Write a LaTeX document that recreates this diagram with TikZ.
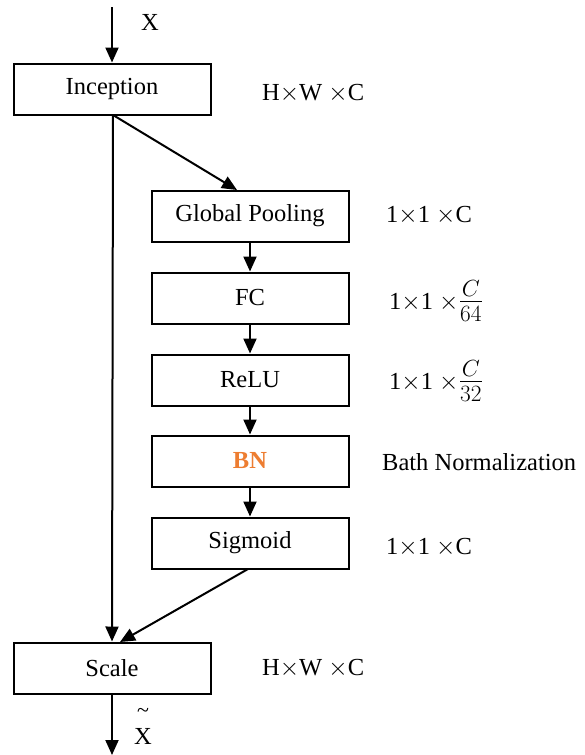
\documentclass[tikz,border=0pt]{standalone}
\usepackage{fontspec}
\usepackage{graphicx}
\setmainfont{Liberation Serif}
\usetikzlibrary{arrows.meta}
\definecolor{bnorange}{RGB}{237,125,49}
\newcommand{\chfrac}[2]{\raisebox{0pt}{\scalebox{1.35}{$\frac{#1}{#2}$}}}
\begin{document}
\begin{tikzpicture}[x=1pt,y=-1pt,
  font=\fontsize{24.5}{28}\selectfont,
  block/.style={draw, line width=2pt, minimum width=197pt, minimum height=51pt, inner sep=0pt},
  flow/.style={line width=2pt, -{Triangle[length=15pt,width=13pt]}},
  dimtext/.style={anchor=west, inner sep=0pt}]
\useasboundingbox (0,0) rectangle (584,755);

% main path
\node[block] (inc) at (112,89) {Inception};
\node[block] (scale) at (112,668) {Scale};

% squeeze-and-excitation branch
\node[block] (gp)  at (250,216) {Global Pooling};
\node[block] (fc)  at (250,298) {FC};
\node[block] (relu) at (250,380) {ReLU};
\node[block] (bn)  at (250,461) {\textcolor{bnorange}{\bfseries BN}};
\node[block] (sig) at (250,543) {Sigmoid};

% input and output
\coordinate (in) at (112,7);
\coordinate (out) at (112,755);
\node[inner sep=0pt] (xin) at (150,22) {X};
\node[inner sep=0pt] (xout) at (143,736) {X};
\node[inner sep=0pt, font=\fontsize{22}{24}\selectfont] (tld) at (143,713) {\~{}};

% connectors
\draw[flow] (in) -- (inc.north);
\coordinate (split) at (113,115);
\draw[flow] (split) -- (237,190);
\draw[flow] (gp) -- (fc);
\draw[flow] (fc) -- (relu);
\draw[flow] (relu) -- (bn);
\draw[flow] (bn) -- (sig);
\draw[flow] (split) -- (scale.north);
\draw[flow] (248,569) -- (120,642);
\draw[flow] (scale.south) -- (out);

% tensor shapes
\node[dimtext] (d1) at (262,93) {H$\times$W $\times$C};
\node[dimtext] (d2) at (386,215) {1$\times$1 $\times$C};
\node[dimtext] (d3) at (389,301) {1$\times$1 $\times$\chfrac{C}{64}};
\node[dimtext] (d4) at (389,381) {1$\times$1 $\times$\chfrac{C}{32}};
\node[dimtext] (d5) at (382,462) {Bath Normalization};
\node[dimtext] (d6) at (386,547) {1$\times$1 $\times$C};
\node[dimtext] (d7) at (262,668) {H$\times$W $\times$C};
\end{tikzpicture}
\end{document}
